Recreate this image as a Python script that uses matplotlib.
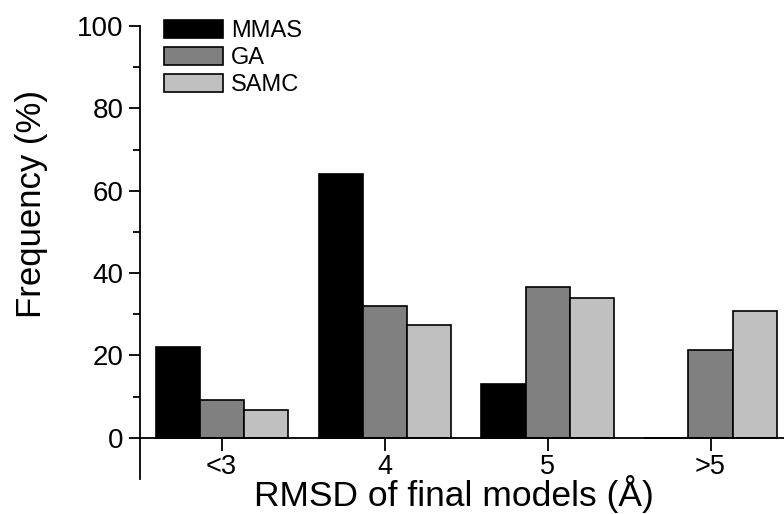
import matplotlib
matplotlib.use("Agg")
matplotlib.rcParams['font.family'] = ['Liberation Sans', 'DejaVu Sans']

import matplotlib.pyplot as plt
import numpy as np

# --------------------------------------
# Data
# --------------------------------------
categories = ["<3", "4", "5", ">5"]
series_names = ["MMAS", "GA", "SAMC"]
mmas = [22.1, 64.0, 13.1, 0.0]
ga = [9.2, 32.0, 36.7, 21.3]
samc = [6.7, 27.5, 33.9, 30.9]

colors = ["#000000", "#808080", "#c0c0c0"]

# --------------------------------------
# Plot
# --------------------------------------
fig = plt.figure(figsize=(7.84, 5.14), dpi=100)
ax = fig.add_axes([0.1786, 0.0683, 0.8316, 0.8811])

x = np.arange(len(categories))
width = 0.27
for i, (name, vals) in enumerate(zip(series_names, [mmas, ga, samc])):
    ax.bar(x + (i - 1) * width, vals, width, color=colors[i],
           edgecolor="black", linewidth=1.2, label=name)

ax.set_xlim(-0.5, 3.5)
ax.set_ylim(-10, 100)
ax.set_xticks(x)
ax.set_xticklabels(categories)
ax.set_yticks([0, 20, 40, 60, 80, 100])
ax.set_yticks([10, 30, 50, 70, 90], minor=True)

# Clean style
ax.spines["top"].set_visible(False)
ax.spines["right"].set_visible(False)
ax.spines["bottom"].set_position(("data", 0))
ax.spines["left"].set_linewidth(1.3)
ax.spines["bottom"].set_linewidth(1.3)

ax.tick_params(axis="y", which="major", direction="out", length=8, width=1.3,
               labelsize=20, pad=4)
ax.tick_params(axis="y", which="minor", direction="out", length=5, width=1.3)
ax.tick_params(axis="x", which="major", direction="out", length=9, width=1.3,
               labelsize=19.5, pad=3)

# Axis titles placed to match the original layout
fig.text(32 / 784, 1 - 204 / 514, "Frequency (%)", fontsize=25,
         rotation=90, ha="center", va="center")
fig.text(454 / 784, (514 - 506) / 514, "RMSD of final models (\u00c5)",
         fontsize=25.5, ha="center", va="baseline")

leg = ax.legend(loc="upper left", bbox_to_anchor=(0.022, 1.035), frameon=False,
                fontsize=17, handlelength=2.5, handleheight=0.8,
                labelspacing=0.2, handletextpad=0.35, borderaxespad=0)

plt.savefig("out.png", dpi=100)
plt.close()
